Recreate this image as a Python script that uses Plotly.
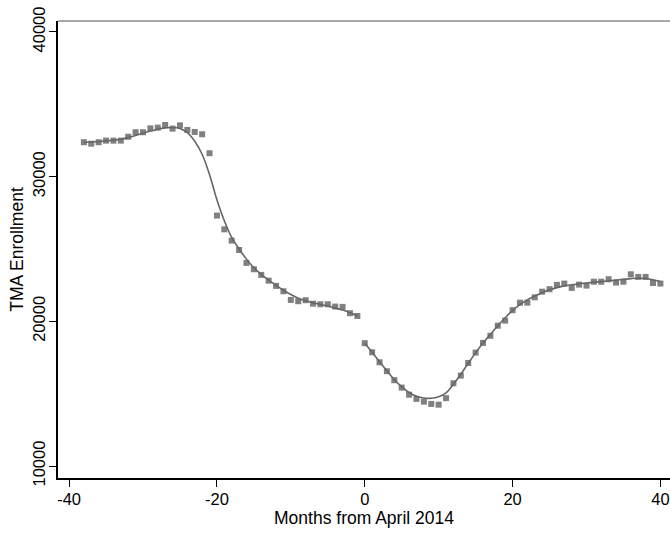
import plotly.graph_objects as go

# Months relative to April 2014
months_pre = list(range(-38, 0))
months_post = list(range(0, 41))

# Observed TMA enrollment (squares)
enroll_pre = [32380, 32280, 32380, 32490, 32490, 32490, 32760, 33070, 33070, 33340,
              33390, 33570, 33320, 33550, 33230, 33090, 32930, 31620, 27310, 26360,
              25580, 24930, 24040, 23600, 23210, 22810, 22450, 22080, 21480, 21390,
              21460, 21220, 21180, 21180, 21020, 21000, 20560, 20370]
enroll_post = [18490, 17860, 17170, 16550, 15930, 15420, 14930, 14640, 14450, 14290,
               14240, 14690, 15720, 16250, 17120, 17840, 18510, 19000, 19700, 20050,
               20770, 21290, 21290, 21660, 22050, 22220, 22520, 22610, 22310, 22540,
               22470, 22740, 22740, 22910, 22680, 22740, 23250, 23070, 23070, 22650,
               22610]

# Smoothed fit (lines)
fit_pre = [32380, 32400, 32430, 32470, 32520, 32590, 32700, 32850, 33000, 33150,
           33280, 33370, 33400, 33330, 33050, 32450, 31550, 30150, 28400, 26950,
           25800, 25000, 24300, 23700, 23250, 22850, 22500, 22150, 21850, 21600,
           21420, 21280, 21170, 21060, 20930, 20780, 20600, 20380]
fit_post = [18490, 17870, 17200, 16580, 15960, 15480, 15080, 14820, 14700, 14680,
            14780, 15050, 15650, 16350, 17100, 17820, 18500, 19100, 19700, 20250,
            20750, 21150, 21480, 21750, 21980, 22180, 22330, 22450, 22530, 22600,
            22650, 22700, 22750, 22800, 22850, 22900, 22950, 22980, 22960, 22880,
            22750]

x_ticks = [-40, -20, 0, 20, 40]
y_ticks = [10000, 20000, 30000, 40000]

marker_color = "#808080"
line_color = "#666666"

fig = go.Figure()
for xs, ys in ((months_pre, enroll_pre), (months_post, enroll_post)):
    fig.add_trace(go.Scatter(x=xs, y=ys, mode="markers",
                             marker=dict(symbol="square", size=6, color=marker_color),
                             hoverinfo="skip", showlegend=False))
for xs, ys in ((months_pre, fit_pre), (months_post, fit_post)):
    fig.add_trace(go.Scatter(x=xs, y=ys, mode="lines",
                             line=dict(color=line_color, width=1.6, shape="spline", smoothing=1.0),
                             hoverinfo="skip", showlegend=False))

font = "Liberation Sans, Arial, Helvetica, sans-serif"
fig.update_layout(
    width=670, height=533,
    margin=dict(l=58, r=0, t=21, b=55),
    paper_bgcolor="white", plot_bgcolor="white",
    font=dict(family=font, size=16.5, color="black"),
    xaxis=dict(range=[-41.5, 41.3], tickvals=x_ticks, ticktext=[str(v) for v in x_ticks],
               showgrid=False, zeroline=False, showline=True, linecolor="black", linewidth=1.5,
               ticks="outside", ticklen=7, tickwidth=1, tickcolor="black",
               ticklabelstandoff=-2,
               title=dict(text="Months from April 2014", standoff=1, font=dict(size=17.5))),
    yaxis=dict(range=[9171, 40760], tickvals=y_ticks, ticktext=[str(v) for v in y_ticks],
               tickangle=-90,
               showgrid=False, zeroline=False, showline=True, linecolor="black", linewidth=1.5,
               ticks="outside", ticklen=7, tickwidth=1, tickcolor="black",
               ticklabelstandoff=-2,
               title=dict(text="TMA Enrollment", standoff=2, font=dict(size=17.5))),
)
fig.add_shape(type="line", xref="paper", yref="paper", x0=0, x1=1, y0=1, y1=1,
              line=dict(color="#555555", width=1.2))

fig.write_html("out.html",
               config={"displayModeBar": False},
               post_script="document.body.style.margin='0';document.body.style.padding='0';")
